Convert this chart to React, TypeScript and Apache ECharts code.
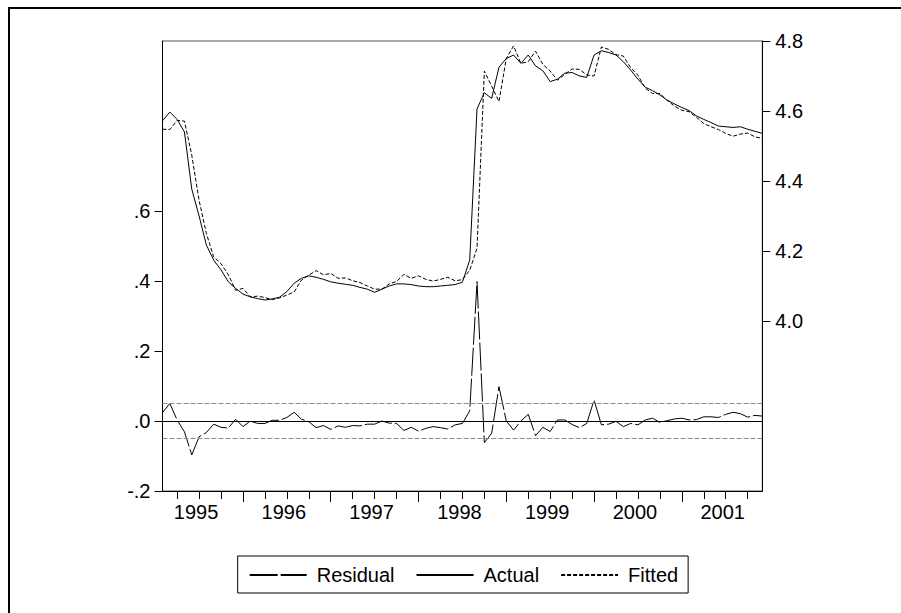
import React, { useEffect, useRef } from "react";
import * as echarts from "echarts";

// Monthly observations, 1995M02 .. 2001M12
const firstYear = 1995;
const firstMonth = 2;
const lastYear = 2001;
const lastMonth = 12;
const categories: string[] = [];
for (let y = firstYear; y <= lastYear; y++) {
  for (let m = 1; m <= 12; m++) {
    if (y === firstYear && m < firstMonth) continue;
    if (y === lastYear && m > lastMonth) continue;
    categories.push(`${y}M${m < 10 ? "0" + m : m}`);
  }
}

const actual = [
  4.572, 4.597, 4.576, 4.54, 4.377, 4.3, 4.217, 4.174, 4.146, 4.112,
  4.093, 4.077, 4.069, 4.064, 4.06, 4.063, 4.068, 4.084, 4.108, 4.122,
  4.129, 4.125, 4.119, 4.112, 4.108, 4.105, 4.102, 4.096, 4.091, 4.082,
  4.091, 4.1, 4.106, 4.106, 4.104, 4.1, 4.098, 4.098, 4.1, 4.102,
  4.104, 4.111, 4.174, 4.606, 4.652, 4.636, 4.725, 4.75, 4.76, 4.736,
  4.76, 4.729, 4.715, 4.684, 4.691, 4.708, 4.71, 4.7, 4.696, 4.76,
  4.772, 4.767, 4.76, 4.741, 4.717, 4.691, 4.668, 4.658, 4.646, 4.631,
  4.62, 4.61, 4.601, 4.586, 4.576, 4.567, 4.557, 4.555, 4.553, 4.555,
  4.548, 4.542, 4.536,
];

const fitted = [
  4.548, 4.547, 4.573, 4.571, 4.474, 4.345, 4.25, 4.183, 4.164, 4.132,
  4.088, 4.093, 4.069, 4.071, 4.067, 4.061, 4.066, 4.074, 4.083, 4.117,
  4.131, 4.144, 4.132, 4.136, 4.122, 4.123, 4.115, 4.11, 4.1, 4.091,
  4.091, 4.106, 4.113, 4.133, 4.122, 4.129, 4.119, 4.114, 4.119, 4.125,
  4.115, 4.118, 4.145, 4.208, 4.714, 4.671, 4.627, 4.75, 4.786, 4.736,
  4.741, 4.771, 4.733, 4.714, 4.688, 4.705, 4.72, 4.719, 4.703, 4.7,
  4.783, 4.776, 4.761, 4.757, 4.724, 4.702, 4.665, 4.65, 4.65, 4.63,
  4.614, 4.602, 4.598, 4.582, 4.564, 4.555, 4.547, 4.536, 4.528, 4.534,
  4.537, 4.526, 4.522,
];

const residual = [
  0.024, 0.05, 0.003, -0.031, -0.097, -0.045, -0.033, -0.009, -0.018, -0.02,
  0.005, -0.016, 0.0, -0.007, -0.007, 0.002, 0.002, 0.01, 0.025, 0.005,
  -0.002, -0.019, -0.013, -0.024, -0.014, -0.018, -0.013, -0.014, -0.009, -0.009,
  0.0, -0.006, -0.007, -0.027, -0.018, -0.029, -0.021, -0.016, -0.019, -0.023,
  -0.011, -0.007, 0.029, 0.398, -0.062, -0.035, 0.098, 0.0, -0.026, 0.0,
  0.019, -0.042, -0.018, -0.03, 0.003, 0.003, -0.01, -0.019, -0.007, 0.06,
  -0.011, -0.009, -0.001, -0.016, -0.007, -0.011, 0.003, 0.008, -0.004, 0.001,
  0.006, 0.008, 0.003, 0.004, 0.012, 0.012, 0.01, 0.019, 0.025, 0.021,
  0.011, 0.016, 0.014,
];

// Residual standard-error band
const residualBand = [0.052, -0.052];

// Axis ranges and tick labels
const leftMin = -0.2;
const leftMax = 1.0857142857;
const leftTicks = [-0.2, 0, 0.2, 0.4, 0.6];
const rightMin = 3.5142857143;
const rightMax = 4.8;
const rightTicks = [4.0, 4.2, 4.4, 4.6, 4.8];

const FONT = "'Liberation Sans', Arial, Helvetica, sans-serif";

const monthOf = (v: string) => parseInt(v.slice(5), 10);

export default function App() {
  const ref = useRef<HTMLDivElement>(null);

  useEffect(() => {
    if (!ref.current) return;
    const chart = echarts.init(ref.current, undefined, { renderer: "svg" });

    const option: any = {
      animation: false,
      backgroundColor: "#fff",
      textStyle: { fontFamily: FONT },
      grid: {
        left: 162.5,
        top: 41,
        width: 599.8,
        height: 450,
        show: true,
        borderColor: "#555",
        borderWidth: 1,
        backgroundColor: "transparent",
        containLabel: false,
      },
      graphic: [
        {
          type: "rect",
          shape: { x: 9, y: 8, width: 1000, height: 1000 },
          style: { fill: "none", stroke: "#000", lineWidth: 2 },
          silent: true,
        },
      ],
      legend: {
        data: ["Residual", "Actual", "Fitted"],
        orient: "horizontal",
        left: 237.7,
        top: 556,
        itemWidth: 57,
        itemHeight: 14,
        itemGap: 21,
        padding: [8, 10, 7, 11],
        borderColor: "#000",
        borderWidth: 1,
        selectedMode: false,
        itemStyle: { opacity: 0, color: "transparent", borderWidth: 0 },
        textStyle: {
          fontSize: 20,
          color: "#000",
          fontFamily: FONT,
          padding: [0, 0, 0, 5],
          lineHeight: 22,
        },
      },
      xAxis: [
        {
          type: "category",
          data: categories,
          boundaryGap: false,
          position: "bottom",
          axisLine: { show: true, onZero: false, lineStyle: { color: "#000", width: 1 } },
          axisTick: {
            show: true,
            length: 8,
            interval: (_i: number, v: string) => {
              const m = monthOf(v);
              return m === 4 || m === 7 || m === 10;
            },
            lineStyle: { color: "#000", width: 1 },
          },
          axisLabel: {
            show: true,
            interval: (_i: number, v: string) => monthOf(v) === 7,
            formatter: (v: string) => v.slice(0, 4),
            fontSize: 20,
            color: "#000",
            fontFamily: FONT,
            margin: 11,
            padding: [0, 6, 0, 0],
          },
          splitLine: { show: false },
        },
        {
          type: "category",
          data: categories,
          boundaryGap: false,
          position: "bottom",
          axisLine: { show: false, onZero: false },
          axisTick: {
            show: true,
            length: 11,
            interval: (_i: number, v: string) => monthOf(v) === 1,
            lineStyle: { color: "#000", width: 1 },
          },
          axisLabel: { show: false },
          splitLine: { show: false },
        },
      ],
      yAxis: [
        {
          type: "value",
          position: "left",
          min: leftMin,
          max: leftMax,
          axisLine: { show: true, lineStyle: { color: "#000", width: 1 } },
          axisTick: {
            show: true,
            length: 8,
            customValues: leftTicks,
            lineStyle: { color: "#000", width: 1 },
          },
          axisLabel: {
            show: true,
            customValues: leftTicks,
            formatter: (v: number) => v.toFixed(1).replace(/^(-?)0\./, "$1."),
            fontSize: 20,
            color: "#000",
            fontFamily: FONT,
            margin: 12,
          },
          splitLine: { show: false },
        },
        {
          type: "value",
          position: "right",
          min: rightMin,
          max: rightMax,
          axisLine: { show: true, lineStyle: { color: "#000", width: 1 } },
          axisTick: {
            show: true,
            length: 8,
            customValues: rightTicks,
            lineStyle: { color: "#000", width: 1 },
          },
          axisLabel: {
            show: true,
            customValues: rightTicks,
            formatter: (v: number) => v.toFixed(1),
            fontSize: 20,
            color: "#000",
            fontFamily: FONT,
            margin: 13,
          },
          splitLine: { show: false },
        },
      ],
      series: [
        {
          name: "Residual",
          type: "line",
          xAxisIndex: 0,
          yAxisIndex: 0,
          data: residual,
          symbol: "none",
          lineStyle: { color: "#000", width: 1, type: [28, 3] },
          itemStyle: { color: "#000" },
          z: 3,
          markLine: {
            silent: true,
            symbol: "none",
            label: { show: false },
            data: [
              { yAxis: 0, lineStyle: { color: "#000", width: 1, type: "solid" } },
              ...residualBand.map((b) => ({
                yAxis: b,
                lineStyle: { color: "#8c8c8c", width: 1, type: [5, 2] },
              })),
            ],
          },
        },
        {
          name: "Actual",
          type: "line",
          xAxisIndex: 0,
          yAxisIndex: 1,
          data: actual,
          symbol: "none",
          lineStyle: { color: "#000", width: 1, type: "solid" },
          itemStyle: { color: "#000" },
          z: 3,
        },
        {
          name: "Fitted",
          type: "line",
          xAxisIndex: 0,
          yAxisIndex: 1,
          data: fitted,
          symbol: "none",
          lineStyle: { color: "#000", width: 1, type: [4, 2] },
          itemStyle: { color: "#000" },
          z: 3,
        },
      ],
    };

    chart.setOption(option);
    return () => chart.dispose();
  }, []);

  return (
    <div
      ref={ref}
      style={{
        position: "fixed",
        left: 0,
        top: 0,
        width: 901,
        height: 613,
        background: "#fff",
      }}
    />
  );
}
